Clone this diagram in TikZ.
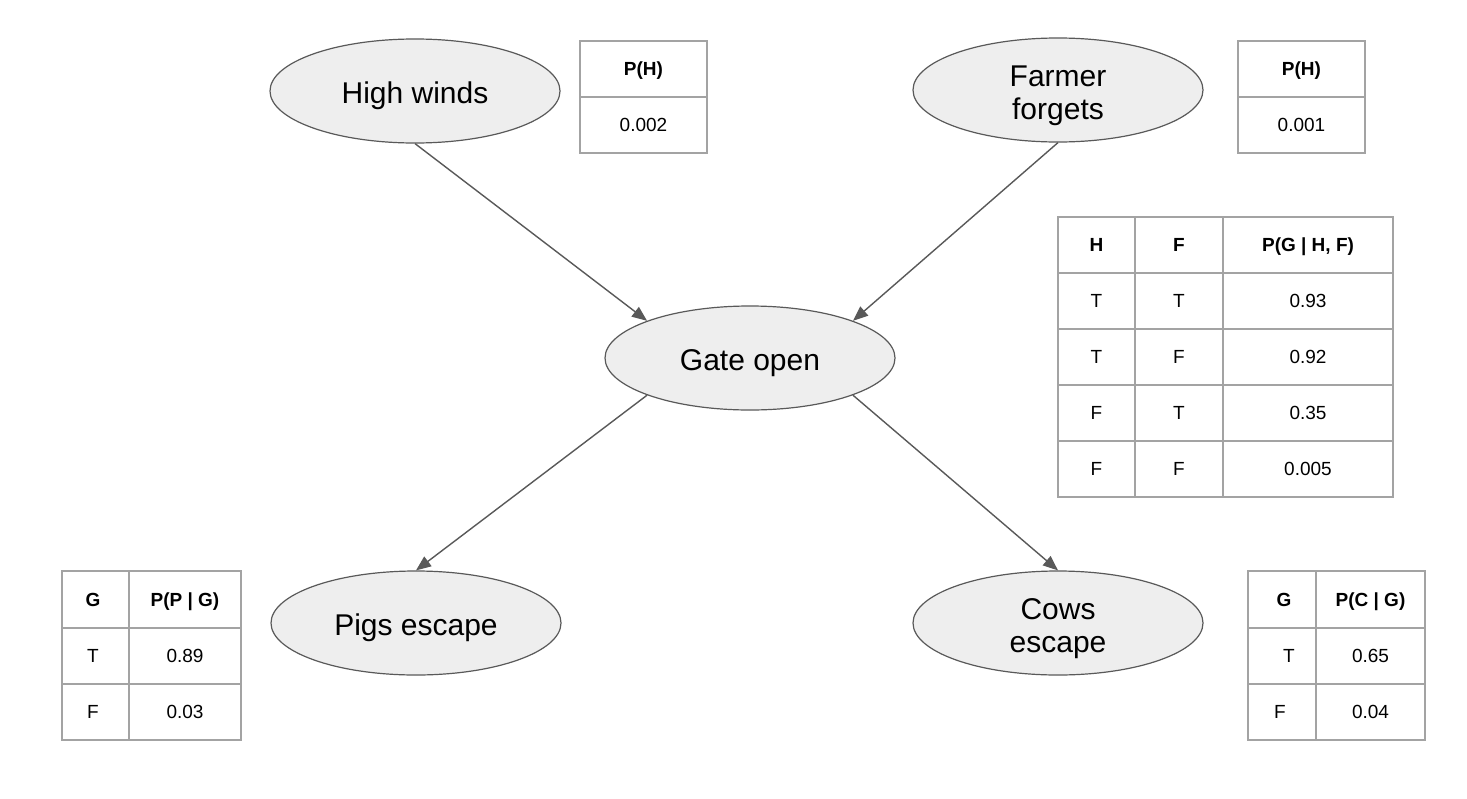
\documentclass[tikz,border=0pt]{standalone}
\usepackage{fontspec}
\setmainfont{Liberation Sans}
\usetikzlibrary{shapes.geometric,arrows.meta}
\definecolor{edgec}{HTML}{595959}
\definecolor{fillc}{HTML}{EEEEEE}
\definecolor{gridc}{HTML}{A3A3A3}
\newcommand{\myupstrut}{\rule{0pt}{32pt}}
\begin{document}
\begin{tikzpicture}[x=1pt,y=-1pt,
  var/.style={ellipse, draw=edgec, line width=1.2pt, fill=fillc,
    minimum width=290pt, minimum height=104pt, inner sep=0pt,
    font=\fontsize{30}{33}\selectfont, align=center},
  conn/.style={draw=edgec, line width=1.4pt, -{Triangle[length=15pt,width=12pt]}},
  gridline/.style={draw=gridc, line width=1.5pt},
  cell/.style={font=\fontsize{19}{21}\selectfont, inner sep=0pt,
    text height=13.6pt, text depth=0pt, anchor=center},
  head/.style={cell, font=\fontsize{19}{21}\selectfont\bfseries}]
\useasboundingbox[fill=white] (0,0) rectangle (1467,798);

% variables
\node[var] (hw) at (415,91) {\myupstrut High winds};
\node[var] (ff) at (1058,90) {\myupstrut Farmer\\forgets};
\node[var] (go) at (750,358) {\myupstrut Gate open};
\node[var] (pe) at (416,623) {\myupstrut Pigs escape};
\node[var] (ce) at (1058,623) {\myupstrut Cows\\escape};

% connectors
\draw[conn] (hw.south) -- (go.north west);
\draw[conn] (ff.south) -- (go.north east);
\draw[conn] (go.south west) -- (pe.north);
\draw[conn] (go.south east) -- (ce.north);

% table P(H) high winds
\draw[gridline] (580,41) rectangle (707,153);
\draw[gridline] (580,97) -- (707,97);
\node[head] (t1h) at (643.5,69) {P(H)};
\node[cell] (t1v) at (643.5,125) {0.002};

% table P(H) farmer
\draw[gridline] (1238,41) rectangle (1365,153);
\draw[gridline] (1238,97) -- (1365,97);
\node[head] (t2h) at (1301.5,69) {P(H)};
\node[cell] (t2v) at (1301.5,125) {0.001};

% table P(G|H,F)
\draw[gridline] (1058,217) rectangle (1393,497);
\foreach \yy in {273,329,385,441} \draw[gridline] (1058,\yy) -- (1393,\yy);
\foreach \xx in {1135,1223} \draw[gridline] (\xx,217) -- (\xx,497);
\node[head] (g0a) at (1096.5,245) {H};
\node[head] (g0b) at (1179,245) {F};
\node[head] (g0c) at (1308,245) {P(G | H, F)};
\node[cell] (g1a) at (1096.5,301) {T};
\node[cell] (g1b) at (1179,301) {T};
\node[cell] (g1c) at (1308,301) {0.93};
\node[cell] (g2a) at (1096.5,357) {T};
\node[cell] (g2b) at (1179,357) {F};
\node[cell] (g2c) at (1308,357) {0.92};
\node[cell] (g3a) at (1096.5,413) {F};
\node[cell] (g3b) at (1179,413) {T};
\node[cell] (g3c) at (1308,413) {0.35};
\node[cell] (g4a) at (1096.5,469) {F};
\node[cell] (g4b) at (1179,469) {F};
\node[cell] (g4c) at (1308,469) {0.005};

% table P(P|G)
\draw[gridline] (62,571) rectangle (241,740);
\foreach \yy in {628,684} \draw[gridline] (62,\yy) -- (241,\yy);
\draw[gridline] (129,571) -- (129,740);
\node[head] (p0a) at (93,599.5) {G};
\node[head] (p0b) at (185,599.5) {P(P | G)};
\node[cell] (p1a) at (93,656) {T};
\node[cell] (p1b) at (185,656) {0.89};
\node[cell] (p2a) at (93,712) {F};
\node[cell] (p2b) at (185,712) {0.03};

% table P(C|G)
\draw[gridline] (1248,571) rectangle (1425,740);
\foreach \yy in {628,684} \draw[gridline] (1248,\yy) -- (1425,\yy);
\draw[gridline] (1316,571) -- (1316,740);
\node[head] (c0a) at (1284,599.5) {G};
\node[head] (c0b) at (1370.5,599.5) {P(C | G)};
\node[cell] (c1a) at (1289,656) {T};
\node[cell] (c1b) at (1370.5,656) {0.65};
\node[cell] (c2a) at (1280,712) {F};
\node[cell] (c2b) at (1370.5,712) {0.04};
\end{tikzpicture}
\end{document}
